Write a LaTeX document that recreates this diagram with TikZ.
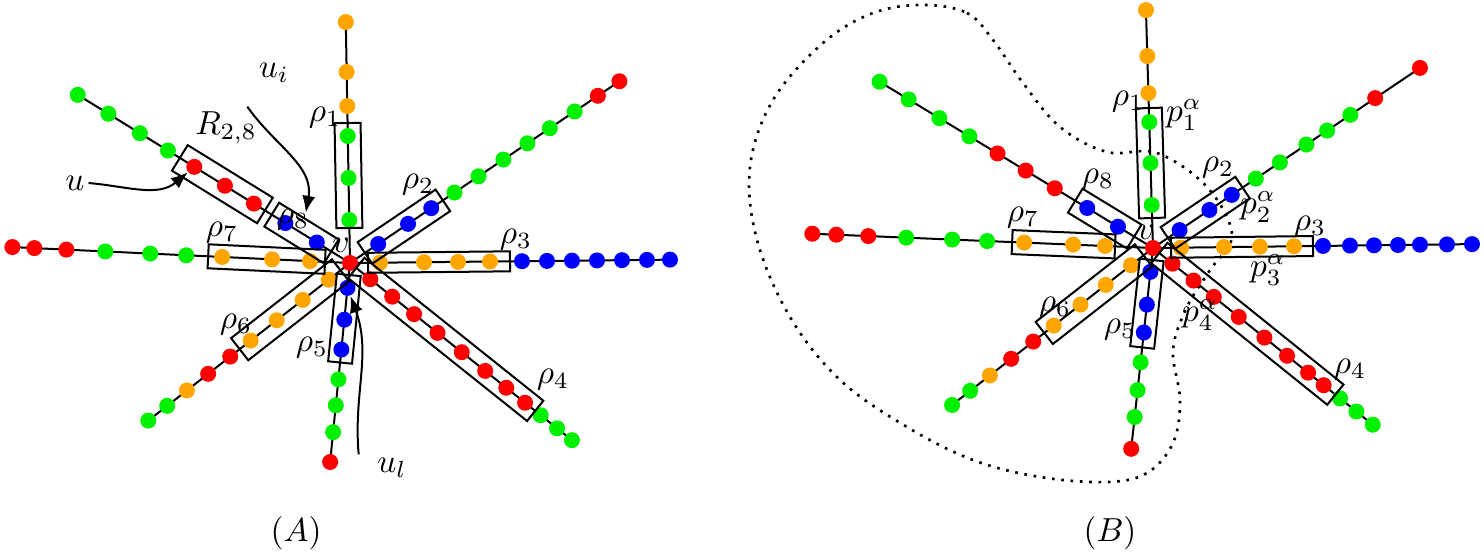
\documentclass[tikz,border=0pt]{standalone}
\usetikzlibrary{arrows.meta}
\definecolor{myorange}{RGB}{255,165,0}
\definecolor{mygreen}{RGB}{0,240,0}
\tikzset{
  dot/.style={circle,inner sep=0pt,minimum size=4.8pt,draw=none},
  armline/.style={line width=0.6pt},
  pbox/.style={line width=0.6pt},
  lbl/.style={inner sep=1pt},
  pointer/.style={line width=0.6pt,-{Latex[length=5pt,width=4pt]}}
}
% an arm: name, centre, angle, length, list of distance/colour
\newcommand\drawarm[5]{%
  \draw[armline] (#2) -- ([shift={(#3:#4)}]#2) coordinate (#1-end);
  \foreach \d/\c [count=\i] in {#5}
    \node[dot,fill=\c] (#1-\i) at ([shift={(#3:\d)}]#2) {};
}
% a box along an arm: centre, angle, from, to, half width
\newcommand\armbox[5]{%
  \draw[pbox,shift={(#1)},rotate=#2] (#3,-#5) rectangle (#4,#5);
}
\begin{document}
\begin{tikzpicture}[x=0.3pt,y=0.3pt]
\useasboundingbox (0,0) rectangle (1484,555);
% the two centres
\coordinate (vA) at (350,292);
\coordinate (vB) at (1153,307);

% ----- picture (A)
\drawarm{a1}{vA}{91}{241}{43/mygreen,85/mygreen,127/mygreen,157/myorange,191/myorange,241/myorange}
\drawarm{a2}{vA}{34}{325}{34/blue,70/blue,98/blue,126/mygreen,155/mygreen,185/mygreen,214/mygreen,241/mygreen,271/mygreen,299/red,325/red}
\drawarm{a3}{vA}{0.6}{320}{30/myorange,74/myorange,108/myorange,140/myorange,172/blue,197/blue,222/blue,247/blue,272/blue,297/blue,320/blue}
\drawarm{a4}{vA}{-38.6}{284}{26/red,54/red,82/red,112/red,143/red,173/red,200/red,224/red,244/mygreen,265/mygreen,284/mygreen}
\drawarm{a5}{vA}{-95.7}{200}{25/blue,57/blue,87/blue,117/mygreen,143/mygreen,170/mygreen,200/red}
\drawarm{a6}{vA}{-142}{256}{27/myorange,60/myorange,93/myorange,126/myorange,152/red,180/red,207/myorange,232/mygreen,256/mygreen}
\drawarm{a7}{vA}{177.3}{338}{40/myorange,78/myorange,128/myorange,164/mygreen,200/mygreen,245/mygreen,284/red,316/red,338/red}
\drawarm{a8}{vA}{148.3}{320}{39/blue,76/blue,113/red,147/red,183/red,214/mygreen,247/mygreen,284/mygreen,320/mygreen}
\node[dot,fill=red] (A-v) at (vA) {};
\armbox{vA}{91}{35}{140}{13}
\armbox{vA}{34}{18}{112}{13}
\armbox{vA}{0.6}{18}{160}{10}
\armbox{vA}{-38.6}{8}{237}{13}
\armbox{vA}{-95.7}{12}{100}{12}
\armbox{vA}{-142}{12}{140}{14}
\armbox{vA}{177.3}{25}{142}{12}
\armbox{vA}{148.3}{22}{92}{14}
\armbox{vA}{148.3}{100}{200}{15}
\node[lbl] (A-r1) at (325,437) {$\rho_1$};
\node[lbl] (A-r2) at (418,370) {$\rho_2$};
\node[lbl] (A-r3) at (516,315) {$\rho_3$};
\node[lbl] (A-r4) at (553,175) {$\rho_4$};
\node[lbl] (A-r5) at (312,207) {$\rho_5$};
\node[lbl] (A-r6) at (236,230) {$\rho_6$};
\node[lbl] (A-r7) at (222,322) {$\rho_7$};
\node[lbl] (A-r8) at (293,335) {$\rho_8$};
\node[lbl] (A-vl) at (341,310) {$v$};
\node[lbl] (A-R) at (226,427) {$R_{2,8}$};
\node[lbl] (A-u) at (75,372) {$u$};
\node[lbl] (A-ui) at (274,482) {$u_i$};
\node[lbl] (A-ul) at (392,87) {$u_l$};
\node[lbl] (A-cap) at (296,22) {$(A)$};
\coordinate (A-uitip) at ([shift={(-11,30)}]a8-1);
\draw[pointer] (A-u.east) to[out=-5,in=220] (a8-5);
\draw[pointer] ([xshift=-8,yshift=-6]A-ui.south) to[out=-55,in=80] (A-uitip);
\draw[pointer] ([xshift=-10]A-ul.north) to[out=95,in=-70] (a5-1);

% ----- picture (B)
\draw[dotted,line width=0.8pt] plot[smooth cycle,tension=0.6] coordinates {
  (923,550) (967,542) (993,515) (1023,472) (1060,428) (1107,403) (1157,402)
  (1207,368) (1232,320) (1210,285) (1187,248) (1173,205) (1180,155)
  (1173,112) (1147,82) (1107,73) (1040,78) (973,95) (907,128) (840,175)
  (790,238) (757,315) (750,388) (773,455) (823,512) (873,542)};
\drawarm{b1}{vB}{91.7}{238}{43/mygreen,85/mygreen,126/mygreen,155/myorange,192/myorange,238/myorange}
\drawarm{b2}{vB}{34}{322}{32/blue,68/blue,95/blue,124/mygreen,153/mygreen,185/mygreen,210/mygreen,238/mygreen,268/red,322/red}
\drawarm{b3}{vB}{0.7}{319}{28/myorange,71/myorange,107/myorange,141/myorange,170/blue,197/blue,221/blue,245/blue,267/blue,294/blue,319/blue}
\drawarm{b4}{vB}{-38.8}{282}{25/red,52/red,78/red,110/red,143/red,172/red,199/red,219/red,240/mygreen,261/mygreen,282/mygreen}
\drawarm{b5}{vB}{-96.2}{202}{24/blue,57/blue,85/blue,115/mygreen,143/mygreen,170/mygreen,202/red}
\drawarm{b6}{vB}{-142}{255}{28/myorange,60/myorange,92/myorange,126/myorange,152/red,180/red,207/myorange,232/mygreen,255/mygreen}
\drawarm{b7}{vB}{177.6}{341}{48/myorange,80/myorange,129/myorange,166/mygreen,201/mygreen,247/mygreen,285/red,317/red,341/red}
\drawarm{b8}{vB}{148.7}{320}{41/blue,77/blue,115/red,149/red,182/red,215/mygreen,250/mygreen,286/mygreen,320/mygreen}
\node[dot,fill=red] (B-v) at (vB) {};
\armbox{vB}{91.7}{30}{140}{13}
\armbox{vB}{34}{18}{108}{13}
\armbox{vB}{0.7}{18}{160}{10}
\armbox{vB}{-38.8}{8}{234}{13}
\armbox{vB}{-96.2}{12}{100}{12}
\armbox{vB}{-142}{12}{138}{14}
\armbox{vB}{177.6}{38}{141}{12}
\armbox{vB}{148.7}{22}{91}{14}
\node[lbl] (B-r1) at (1128,453) {$\rho_1$};
\node[lbl] (B-p1) at (1184,440) {$p_1^\alpha$};
\node[lbl] (B-r2) at (1218,387) {$\rho_2$};
\node[lbl] (B-p2) at (1258,348) {$p_2^\alpha$};
\node[lbl] (B-r3) at (1310,328) {$\rho_3$};
\node[lbl] (B-p3) at (1268,285) {$p_3^\alpha$};
\node[lbl] (B-r4) at (1350,185) {$\rho_4$};
\node[lbl] (B-p4) at (1200,240) {$p_4^\alpha$};
\node[lbl] (B-r5) at (1120,225) {$\rho_5$};
\node[lbl] (B-r6) at (1055,247) {$\rho_6$};
\node[lbl] (B-r7) at (1023,337) {$\rho_7$};
\node[lbl] (B-r8) at (1098,375) {$\rho_8$};
\node[lbl] (B-vl) at (1146,323) {$v$};
\node[lbl] (B-cap) at (1110,22) {$(B)$};
\end{tikzpicture}
\end{document}
